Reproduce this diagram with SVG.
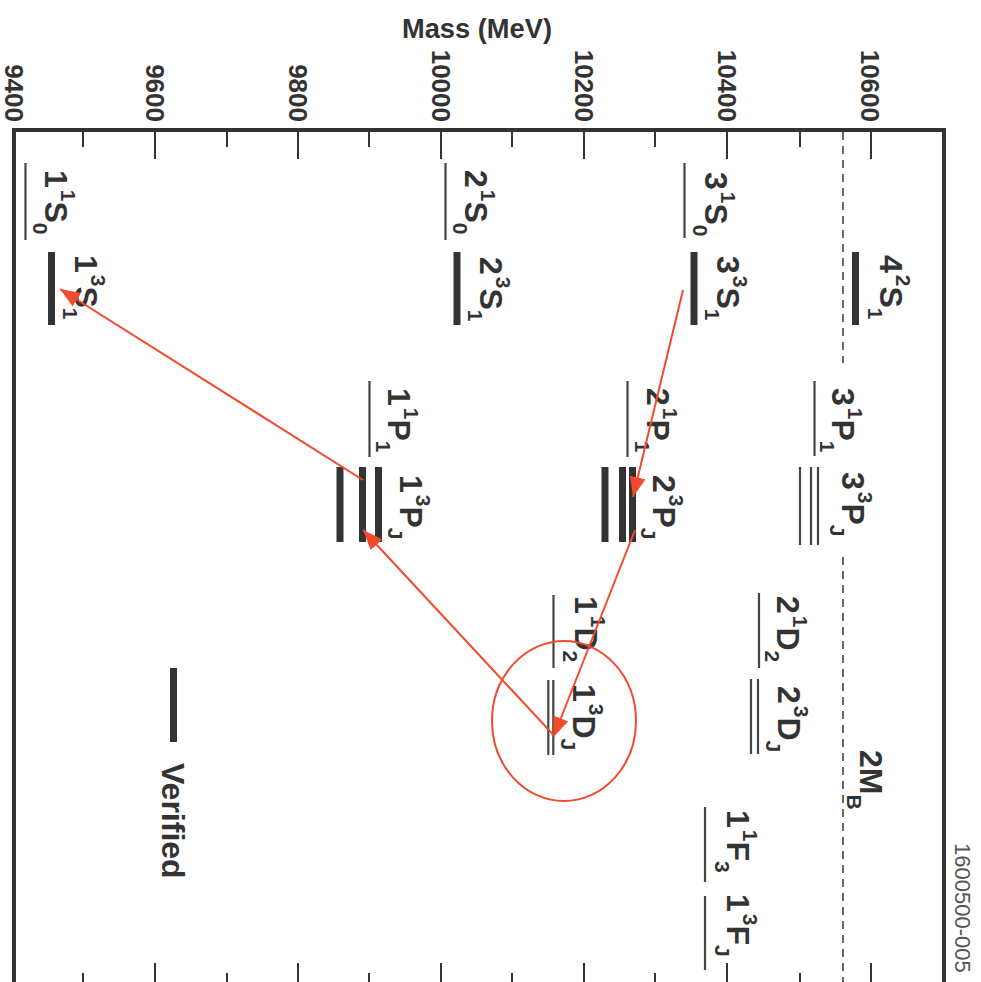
<svg xmlns="http://www.w3.org/2000/svg" width="981" height="982" viewBox="0 0 981 982">
<style>
.frame{stroke:#333;stroke-width:4;fill:none}
.tick{stroke:#333;stroke-width:2}
.thick{stroke:#333;stroke-width:7}
.thin{stroke:#444;stroke-width:2.2}
.dash{stroke:#444;stroke-width:1.6;stroke-dasharray:8 6}
.lbl{font-family:"Liberation Sans",Arial,sans-serif;font-weight:bold;font-size:32px;fill:#333}
.s{font-size:21px}
.tl{font-family:"Liberation Sans",Arial,sans-serif;font-weight:bold;font-size:26px;fill:#333;text-anchor:end}
.red{stroke:#f24b2b;stroke-width:2;fill:none}
</style>
<defs>
<marker id="ah" markerUnits="userSpaceOnUse" markerWidth="22" markerHeight="18" refX="20" refY="8" orient="auto">
<path d="M0,0 L20,8 L0,16 Z" fill="#f24b2b"/>
</marker>
</defs>
<rect width="981" height="982" fill="#fff"/>
<g id="axis">
<text x="477" y="38" text-anchor="middle" textLength="150" lengthAdjust="spacingAndGlyphs" style="font-family:'Liberation Sans',Arial,sans-serif;font-weight:bold;font-size:27px;fill:#333">Mass (MeV)</text>
<text class="tl" transform="translate(5,122) rotate(90)">9400</text>
<text class="tl" transform="translate(146,122) rotate(90)">9600</text>
<text class="tl" transform="translate(288.5,122) rotate(90)">9800</text>
<text class="tl" transform="translate(431.5,122) rotate(90)">10000</text>
<text class="tl" transform="translate(574.5,122) rotate(90)">10200</text>
<text class="tl" transform="translate(717.5,122) rotate(90)">10400</text>
<text class="tl" transform="translate(860.5,122) rotate(90)">10600</text>
<path class="frame" d="M14,992 L14,130 L944,130 L944,992"/>
<path class="tick" d="M83,130v17M155,130v29M227,130v17M298,130v29M369,130v17M441,130v29M512,130v17M584,130v29M655,130v17M727,130v29M800,130v17M871,130v29"/>
<path class="tick" d="M83,973v9M155,963v19M227,973v9M298,963v19M369,973v9M441,963v19M512,973v9M584,963v19M655,973v9M727,963v19M800,973v9M871,963v19"/>
<text transform="translate(955,843) rotate(90)" style="font-family:'Liberation Sans',Arial,sans-serif;font-size:22px;fill:#555">1600500-005</text>
</g>
<g id="threshold">
<line class="dash" x1="843" y1="132" x2="843" y2="363"/>
<line class="dash" x1="843" y1="557" x2="843" y2="982"/>
<text class="lbl" transform="translate(860,750) rotate(90)">2M<tspan class="s" dy="13">B</tspan></text>
</g>
<g id="n11S0">
<line class="thin" x1="25.5" y1="163" x2="25.5" y2="240"/>
<text class="lbl" transform="translate(45,170) rotate(90)">1<tspan class="s" dx="2" dy="-16">1</tspan><tspan dy="16">S</tspan><tspan class="s" dy="12">0</tspan></text>
</g>
<g id="n13S1">
<line class="thick" x1="51.5" y1="252" x2="51.5" y2="325"/>
<text class="lbl" transform="translate(75,255) rotate(90)">1<tspan class="s" dx="2" dy="-16">3</tspan><tspan dy="16">S</tspan><tspan class="s" dy="12">1</tspan></text>
</g>
<g id="n21S0">
<line class="thin" x1="445.5" y1="163" x2="445.5" y2="240"/>
<text class="lbl" transform="translate(465,170) rotate(90)">2<tspan class="s" dx="2" dy="-16">1</tspan><tspan dy="16">S</tspan><tspan class="s" dy="12">0</tspan></text>
</g>
<g id="n23S1">
<line class="thick" x1="457" y1="252" x2="457" y2="325"/>
<text class="lbl" transform="translate(480,257) rotate(90)">2<tspan class="s" dx="2" dy="-16">3</tspan><tspan dy="16">S</tspan><tspan class="s" dy="12">1</tspan></text>
</g>
<g id="n31S0">
<line class="thin" x1="684.5" y1="163" x2="684.5" y2="238"/>
<text class="lbl" transform="translate(705,172) rotate(90)">3<tspan class="s" dx="2" dy="-16">1</tspan><tspan dy="16">S</tspan><tspan class="s" dy="12">0</tspan></text>
</g>
<g id="n33S1">
<line class="thick" x1="694" y1="252" x2="694" y2="325"/>
<text class="lbl" transform="translate(717,256) rotate(90)">3<tspan class="s" dx="2" dy="-16">3</tspan><tspan dy="16">S</tspan><tspan class="s" dy="12">1</tspan></text>
</g>
<g id="n42S1">
<line class="thick" x1="855.5" y1="252" x2="855.5" y2="325"/>
<text class="lbl" transform="translate(880,255) rotate(90)">4<tspan class="s" dx="2" dy="-16">2</tspan><tspan dy="16">S</tspan><tspan class="s" dy="12">1</tspan></text>
</g>
<g id="n11P1">
<line class="thin" x1="369.5" y1="381" x2="369.5" y2="457"/>
<text class="lbl" transform="translate(388,388) rotate(90)">1<tspan class="s" dx="2" dy="-16">1</tspan><tspan dy="16">P</tspan><tspan class="s" dy="12">1</tspan></text>
</g>
<g id="n13PJ">
<line class="thick" x1="340" y1="467" x2="340" y2="542"/>
<line class="thick" x1="362.5" y1="467" x2="362.5" y2="542"/>
<line class="thick" x1="378.5" y1="467" x2="378.5" y2="542"/>
<text class="lbl" transform="translate(400,475) rotate(90)">1<tspan class="s" dx="2" dy="-16">3</tspan><tspan dy="16">P</tspan><tspan class="s" dy="12">J</tspan></text>
</g>
<g id="n21P1">
<line class="thin" x1="627.5" y1="381" x2="627.5" y2="457"/>
<text class="lbl" transform="translate(647,388) rotate(90)">2<tspan class="s" dx="2" dy="-16">1</tspan><tspan dy="16">P</tspan><tspan class="s" dy="12">1</tspan></text>
</g>
<g id="n23PJ">
<line class="thick" x1="605" y1="467" x2="605" y2="542"/>
<line class="thick" x1="622.5" y1="467" x2="622.5" y2="542"/>
<line class="thick" x1="632.5" y1="467" x2="632.5" y2="542"/>
<text class="lbl" transform="translate(653,475) rotate(90)">2<tspan class="s" dx="2" dy="-16">3</tspan><tspan dy="16">P</tspan><tspan class="s" dy="12">J</tspan></text>
</g>
<g id="n31P1">
<line class="thin" x1="814.5" y1="381" x2="814.5" y2="456"/>
<text class="lbl" transform="translate(832,388) rotate(90)">3<tspan class="s" dx="2" dy="-16">1</tspan><tspan dy="16">P</tspan><tspan class="s" dy="12">1</tspan></text>
</g>
<g id="n33PJ">
<line class="thin" x1="800" y1="467" x2="800" y2="545"/>
<line class="thin" x1="811" y1="467" x2="811" y2="545"/>
<line class="thin" x1="818" y1="467" x2="818" y2="545"/>
<text class="lbl" transform="translate(842,472) rotate(90)">3<tspan class="s" dx="2" dy="-16">3</tspan><tspan dy="16">P</tspan><tspan class="s" dy="12">J</tspan></text>
</g>
<g id="n11D2">
<line class="thin" x1="553.5" y1="595" x2="553.5" y2="668"/>
<text class="lbl" transform="translate(575,596) rotate(90)">1<tspan class="s" dx="2" dy="-16">1</tspan><tspan dy="16">D</tspan><tspan class="s" dy="12">2</tspan></text>
</g>
<g id="n13DJ">
<line class="thin" x1="548.3" y1="680" x2="548.3" y2="755"/>
<line class="thin" x1="553.3" y1="680" x2="553.3" y2="755"/>
<text class="lbl" transform="translate(573,684) rotate(90)">1<tspan class="s" dx="2" dy="-16">3</tspan><tspan dy="16">D</tspan><tspan class="s" dy="12">J</tspan></text>
</g>
<g id="n21D2">
<line class="thin" x1="759" y1="593" x2="759" y2="668"/>
<text class="lbl" transform="translate(777,596) rotate(90)">2<tspan class="s" dx="2" dy="-16">1</tspan><tspan dy="16">D</tspan><tspan class="s" dy="12">2</tspan></text>
</g>
<g id="n23DJ">
<line class="thin" x1="751" y1="679" x2="751" y2="754"/>
<line class="thin" x1="758" y1="679" x2="758" y2="754"/>
<text class="lbl" transform="translate(778,686) rotate(90)">2<tspan class="s" dx="2" dy="-16">3</tspan><tspan dy="16">D</tspan><tspan class="s" dy="12">J</tspan></text>
</g>
<g id="n11F3">
<line class="thin" x1="705" y1="807" x2="705" y2="882"/>
<text class="lbl" transform="translate(727,810) rotate(90)">1<tspan class="s" dx="2" dy="-16">1</tspan><tspan dy="16">F</tspan><tspan class="s" dy="12">3</tspan></text>
</g>
<g id="n13FJ">
<line class="thin" x1="705" y1="896" x2="705" y2="970"/>
<text class="lbl" transform="translate(727,894) rotate(90)">1<tspan class="s" dx="2" dy="-16">3</tspan><tspan dy="16">F</tspan><tspan class="s" dy="12">J</tspan></text>
</g>
<g id="legend">
<line class="thick" x1="173.5" y1="668" x2="173.5" y2="742"/>
<text class="lbl" transform="translate(162,763) rotate(90)">Verified</text>
</g>
<g id="connectors">
<line class="red" x1="683" y1="290" x2="633" y2="497" marker-end="url(#ah)"/>
<line class="red" x1="635" y1="530" x2="553.5" y2="737" marker-end="url(#ah)"/>
<line class="red" x1="553.5" y1="735" x2="363" y2="530" marker-end="url(#ah)"/>
<line class="red" x1="363" y1="480" x2="60" y2="289" marker-end="url(#ah)"/>
<ellipse class="red" cx="564" cy="721" rx="72" ry="80"/>
</g>
</svg>
